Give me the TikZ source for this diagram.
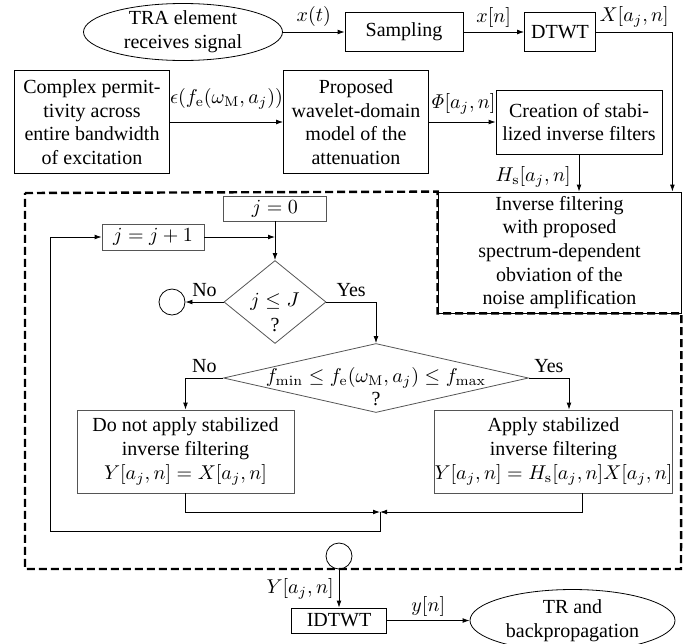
\documentclass[tikz,border=0pt]{standalone}
\usepackage[no-math]{fontspec}
\setmainfont{Liberation Serif}
\usetikzlibrary{shapes.geometric,arrows.meta}

\begin{document}
\begin{tikzpicture}[x=0.5pt, y=-0.5pt, font=\fontsize{10}{11.8}\selectfont,
    block/.style={draw=black, inner sep=0pt, align=center},
    innerblock/.style={block, draw=boxgray},
    decision/.style={draw=boxgray, diamond, inner sep=-3pt},
    terminal/.style={draw=black, ellipse, inner sep=-2pt, align=center},
    connector/.style={draw=black, circle, inner sep=0pt, minimum size=13pt},
    arr/.style={-{Latex[length=3.5pt, width=2.4pt]}},
    dashregion/.style={draw=black, very thick, dash pattern=on 4pt off 2pt}]

    % Define the colors
    \definecolor{boxgray}{RGB}{85, 85, 85}

    \useasboundingbox (0,0) rectangle (699,643);

    % Draw the acquisition chain
    \node[terminal, minimum width=99.5pt, minimum height=28.5pt] (tra) at (183,32) {TRA element\\receives signal};
    \node[block, minimum width=59pt, minimum height=19.5pt] (samp) at (404,32) {Sampling};
    \node[block, minimum width=35.5pt, minimum height=19.5pt] (dtwt) at (560,32) {DTWT};
    \draw[arr] (tra) -- node[above, inner sep=2.5pt] {$x(t)$} (samp);
    \draw[arr] (samp) -- node[above, inner sep=2pt] {$x[n]$} (dtwt);

    % Draw the attenuation model chain
    \node[block, minimum width=77.5pt, minimum height=51.5pt] (perm) at (92,122) {Complex permit-\\tivity across\\entire bandwidth\\of excitation};
    \node[block, minimum width=72.5pt, minimum height=51.5pt] (model) at (356,122) {Proposed\\wavelet-domain\\model of the\\attenuation};
    \node[block, minimum width=83pt, minimum height=32pt] (filt) at (579,122) {Creation of stabi-\\lized inverse filters};
    \draw[arr] (perm) -- node[above, inner sep=6pt] {$\epsilon(f_{\mathrm{e}}(\omega_{\mathrm{M}},a_j))$} (model);
    \draw[arr] (model) -- node[above, inner sep=3.5pt] {$\mathit{\Phi}[a_j,n]$} (filt);

    % Draw the inverse filtering block
    \node[block, minimum width=121.5pt, minimum height=60.5pt] (inv) at (559.5,252.5) {Inverse filtering\\with proposed\\spectrum-dependent\\obviation of the\\noise amplification};
    \draw[arr] (dtwt) -| node[pos=.25, above, inner sep=2pt] {$X[a_j,n]$} ([xshift=-4.5pt]inv.north east);
    \draw[arr] (filt) -- node[left, pos=.6, inner sep=4pt] {$H_{\mathrm{s}}[a_j,n]$} (filt.south |- inv.north);

    % Draw the loop over the levels
    \node[innerblock, minimum width=51.5pt, minimum height=12.5pt] (jzero) at (275,208.5) {$j=0$};
    \node[innerblock, minimum width=51pt, minimum height=13pt] (jinc) at (153,237) {$j=j+1$};
    \node[decision, minimum width=51pt, minimum height=41.5pt, aspect=1.23] (lev) at (275,302) {$j\le J$};
    \node[inner sep=0pt] (levq) at (275,325) {?};
    \node[connector] (stop) at (172,302) {};
    \node[decision, minimum width=152.5pt, minimum height=34.5pt, aspect=4.4] (band) at (376,378) {$f_{\min}\le f_{\mathrm{e}}(\omega_{\mathrm{M}},a_j)\le f_{\max}$};
    \node[inner sep=0pt] (bandq) at (376,399) {?};
    \node[innerblock, minimum width=108.5pt, minimum height=41.5pt] (dont) at (185.5,451.5) {Do not apply stabilized\\inverse filtering\\$Y[a_j,n]=X[a_j,n]$};
    \node[innerblock, minimum width=118.5pt, minimum height=41.5pt] (apply) at (553.5,451.5) {Apply stabilized\\inverse filtering\\$Y[a_j,n]=H_{\mathrm{s}}[a_j,n]X[a_j,n]$};
    \coordinate (merge) at (380,512);
    \coordinate (loop) at (50,531);

    \draw[arr] (jzero) -- (lev);
    \draw[arr] (jinc) -- (jinc -| jzero);
    \draw[arr] (lev) -- node[above, inner sep=2.7pt] {No} (stop);
    \draw[arr] (lev) -| node[pos=.25, above, inner sep=2.7pt] {Yes} (band);
    \draw[arr] (band) -| node[pos=.25, above, inner sep=2.7pt] {No} (dont);
    \draw[arr] (band) -| node[pos=.25, above, inner sep=2.7pt] {Yes} ([xshift=7.75pt]apply.north);
    \draw[arr] (dont) |- (merge);
    \draw[arr] ([xshift=14.25pt]apply.south) |- (merge);
    \draw[arr] (merge) |- (loop) |- (jinc);

    % Draw the output chain
    \node[connector] (out) at (339,556) {};
    \node[block, minimum width=47.5pt, minimum height=12.5pt] (idtwt) at (339,620.5) {IDTWT};
    \node[terminal, minimum width=102.5pt, minimum height=31pt] (tr) at (572.5,620.5) {TR and\\backpropagation};
    \draw[arr] (out) -- node[left, inner sep=2.5pt] {$Y[a_j,n]$} (idtwt);
    \draw[arr] (idtwt) -- node[above, inner sep=2pt] {$y[n]$} (tr);

    % Draw the dashed boundary of the level loop
    \draw[dashregion] (25,193) -- (inv.north west) -- (inv.south west) -- (inv.south east) -- (681,569) -- (25,569) -- cycle;

\end{tikzpicture}
\end{document}
